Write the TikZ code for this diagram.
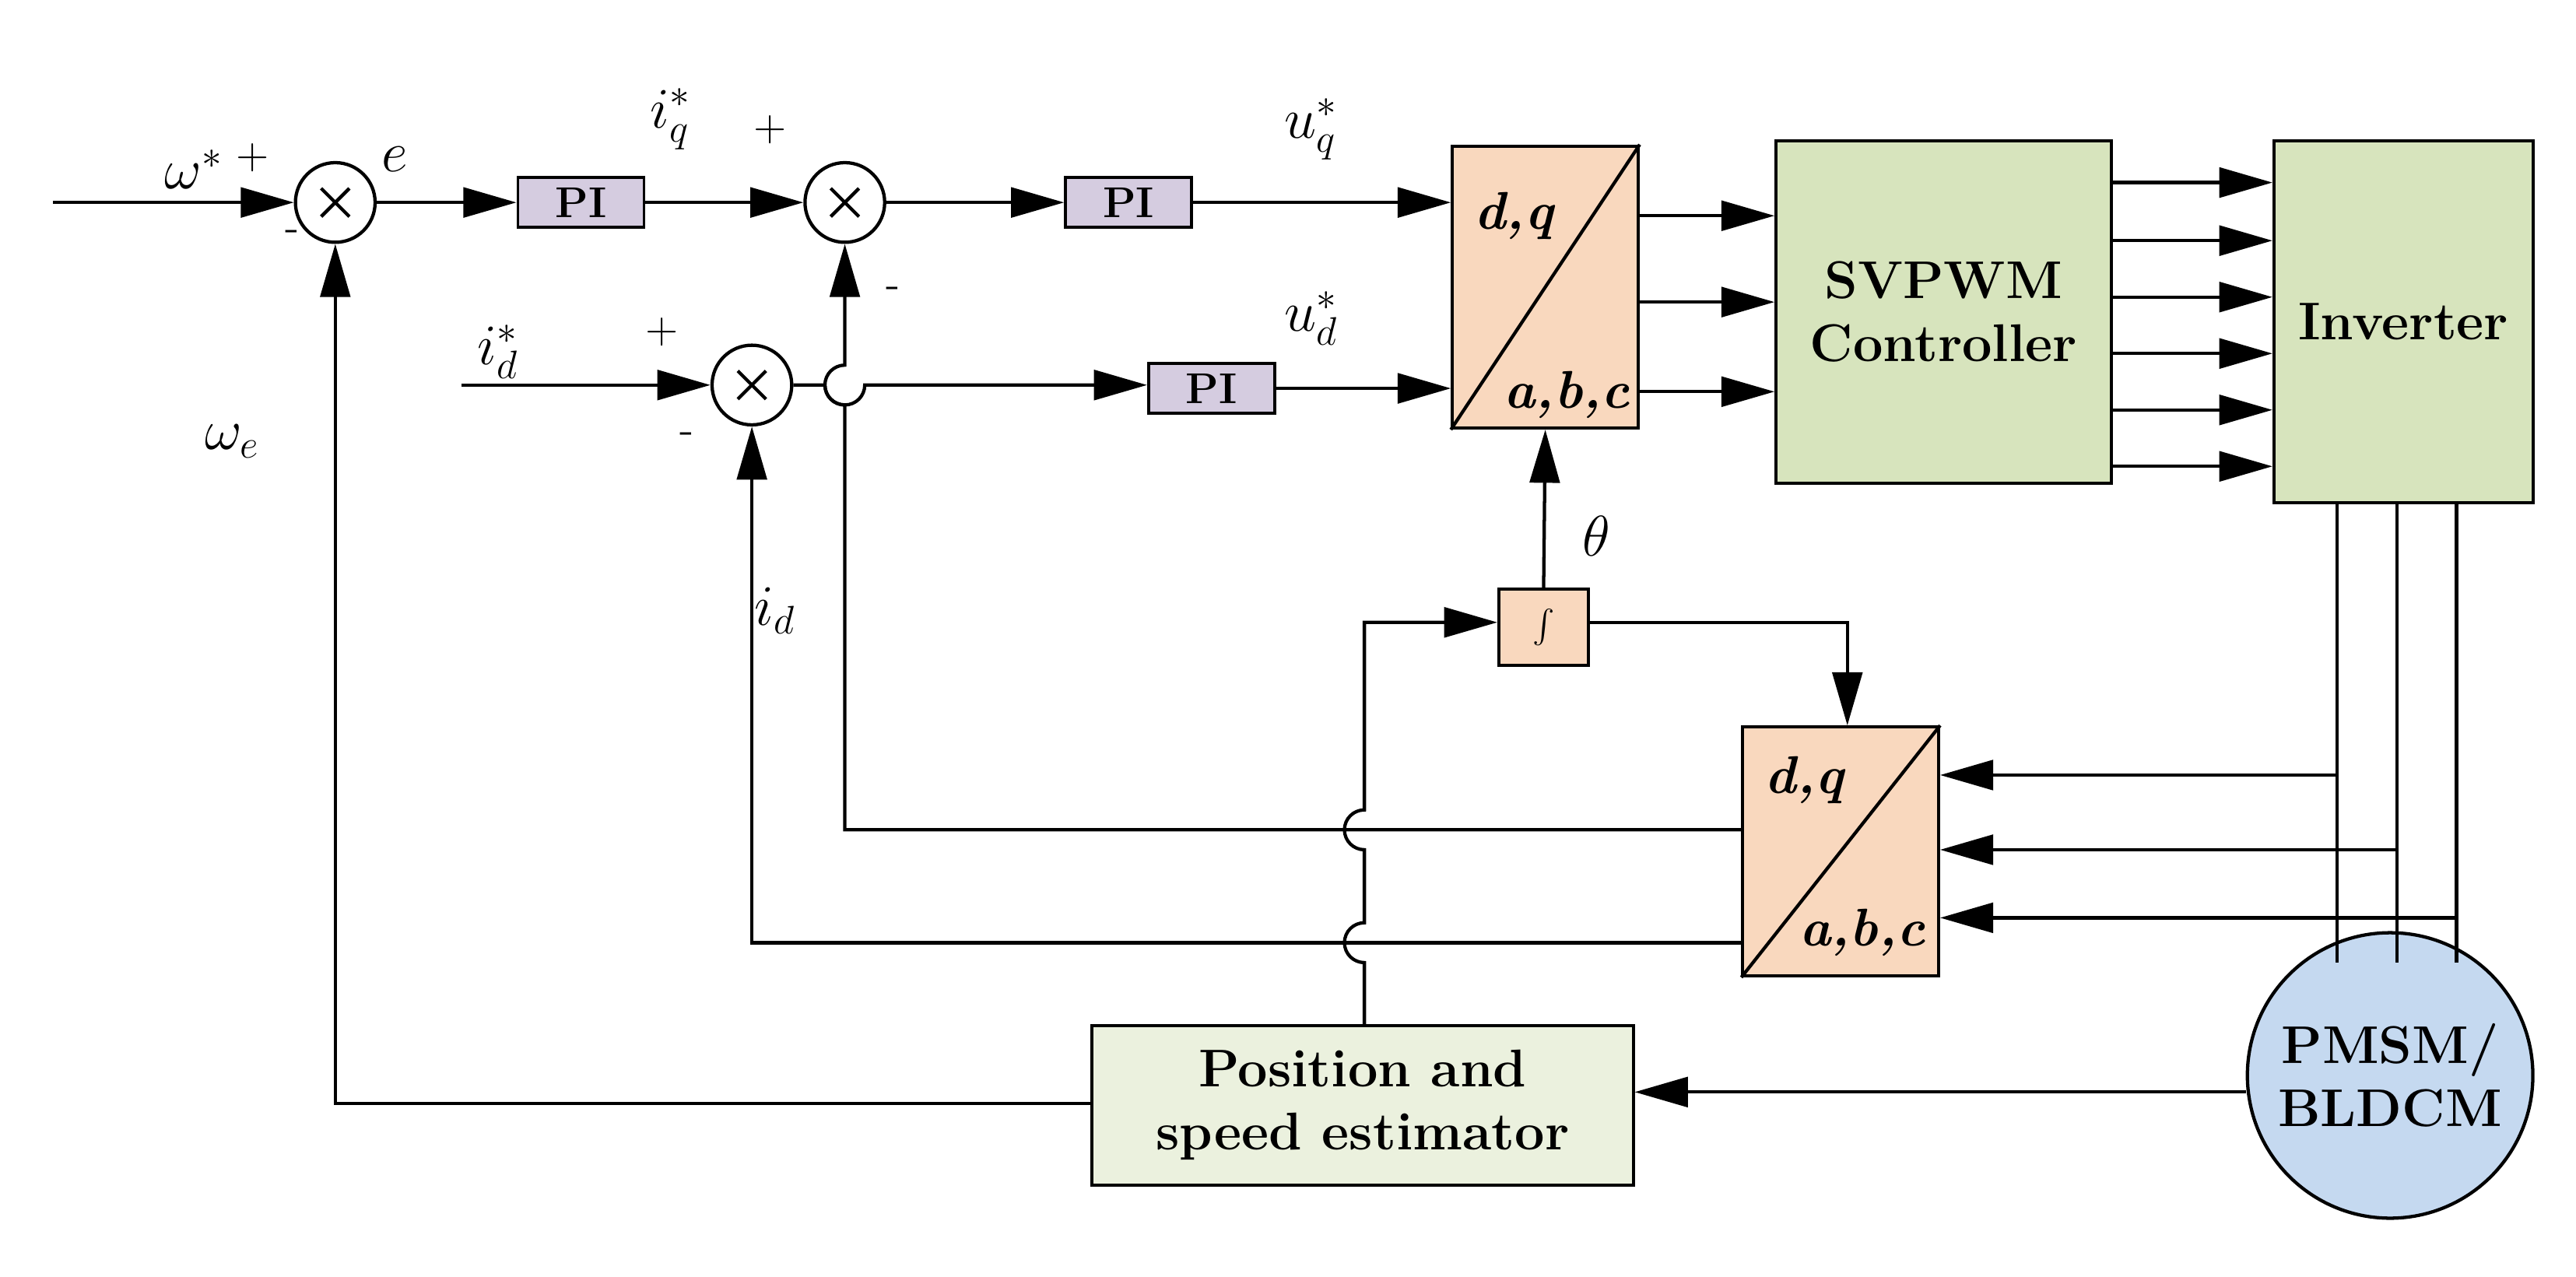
\documentclass[tikz,border=0pt]{standalone}
\usetikzlibrary{arrows.meta,calc}
\definecolor{pif}{HTML}{D5CCE0}
\definecolor{dqf}{HTML}{F9D8BE}
\definecolor{svf}{HTML}{D7E4BD}
\definecolor{esf}{HTML}{EBF1DE}
\definecolor{mof}{HTML}{C5D9F0}
\begin{document}
\begin{tikzpicture}[x=0.5pt,y=-0.5pt,line width=1pt,
  >={Triangle[length=16pt,width=9pt]},
  box/.style={draw,line width=0.9pt,inner sep=0pt},
  pi/.style={box,fill=pif,minimum width=38pt,minimum height=15pt,font=\fontsize{13}{15}\selectfont\bfseries},
  sum/.style={draw,circle,minimum size=24pt,inner sep=0pt},
  lab/.style={font=\fontsize{17}{20}\selectfont},
  dql/.style={font=\fontsize{16}{19}\selectfont\bfseries\itshape},
  sg/.style={font=\fontsize{13}{15}\selectfont},
  big/.style={font=\fontsize{16}{19}\selectfont\bfseries,align=center}]
\useasboundingbox (0,0) rectangle (1552,769);
\newcommand{\cross}[1]{\draw ($(#1)+(-8.5,-8.5)$)--($(#1)+(8.5,8.5)$) ($(#1)+(-8.5,8.5)$)--($(#1)+(8.5,-8.5)$);}
% sums
\node[sum] (s1) at (202,122) {}; \cross{s1}
\node[sum] (s2) at (509,122) {}; \cross{s2}
\node[sum] (s3) at (453,232) {}; \cross{s3}
% PIs
\node[pi] (p1) at (350,122) {PI};
\node[pi] (p2) at (680,122) {PI};
\node[pi] (p3) at (730,234) {PI};
% dq blocks
\node[box,fill=dqf,minimum width=56pt,minimum height=85pt] (dq1) at (931,173) {};
\draw (dq1.south west)--(dq1.north east);
\node[dql] at (912,130) {d,q};
\node[dql] at (944,238) {a,b,c};
\node[box,fill=dqf,minimum width=59pt,minimum height=75pt] (dq2) at (1109,513) {};
\draw (dq2.south west)--(dq2.north east);
\node[dql] at (1087,470) {d,q};
\node[dql] at (1122,562) {a,b,c};
% svpwm, inverter
\node[box,fill=svf,minimum width=101pt,minimum height=103pt,big] (sv) at (1171,188) {SVPWM\\Controller};
\node[box,fill=svf,minimum width=78pt,minimum height=109pt,big] (inv) at (1448,194) {Inverter};
\node[box,fill=esf,minimum width=163pt,minimum height=48pt,big] (est) at (821,666) {Position and\\speed estimator};
\node[draw,circle,fill=mof,minimum size=86pt,inner sep=0pt,big] (m) at (1440,648) {PMSM/\\BLDCM};
\node[box,fill=dqf,minimum width=27pt,minimum height=23pt] (int) at (930,378) {$\int$};
% coordinates
\coordinate (in) at (32,122);
\coordinate (idin) at (278,232);
% forward path
\draw[->] (in)--(s1);
\draw[->] (s1)--(p1);
\draw[->] (p1)--(s2);
\draw[->] (s2)--(p2);
\draw[->] (p2)--(p2-|dq1.west);
\draw[->] (idin)--(s3);
\draw[->] (s3.east)--(497,232) arc (180:0:12) -- (p3.west|-0,232);
\draw[->] (p3)--(p3-|dq1.west);
\foreach \y in {130,182,236} \draw[->] (dq1.east|-0,\y)--(sv.west|-0,\y);
\foreach \y in {110,145,179,213,247,281} \draw[->] (sv.east|-0,\y)--(inv.west|-0,\y);
% inverter to motor
\foreach \x in {1408,1444,1480} \draw (inv.south-|\x,0)--(\x,580);
\draw[->] (1408,467)--(dq2.east|-0,467);
\draw[->] (1444,512)--(dq2.east|-0,512);
\draw[->] (1480,553)--(dq2.east|-0,553);
% feedback from dq2
\draw[->] (dq2.west|-0,500)--(509,500)--(509,244) arc (-90:90:-12) -- (s2.south);
\draw[->] (dq2.west|-0,568)--(453,568)--(s3.south);
% estimator
\draw[->] (est.north-|822,0)--(822,580) arc (-90:90:-12) -- (822,512) arc (-90:90:-12)--(822,375)--(int.west|-0,375);
\draw[->] (int.north)--(dq1.south);
\draw[->] (int.east|-0,375)--(1113,375)--(dq2.north-|1113,0);
\draw[->] (est.west|-0,665)--(202,665)--(s1.south);
\draw[->] (m.west|-0,658)--(est.east|-0,658);
% labels
\node[lab] at (117,102) {$\omega^{*}$};
\node[sg] at (152,95) {+};
\node[sg] at (176,142) {-};
\node[lab] at (238,96) {$e$};
\node[lab] at (404,72) {$i_q^{*}$};
\node[sg] at (464,78) {+};
\node[sg] at (538,176) {-};
\node[lab] at (790,78) {$u_q^{*}$};
\node[lab] at (790,192) {$u_d^{*}$};
\node[lab] at (300,212) {$i_d^{*}$};
\node[sg] at (399,200) {+};
\node[sg] at (414,264) {-};
\node[lab] at (140,266) {$\omega_e$};
\node[lab] at (467,368) {$i_d$};
\node[lab] at (962,323) {$\theta$};
\end{tikzpicture}
\end{document}
